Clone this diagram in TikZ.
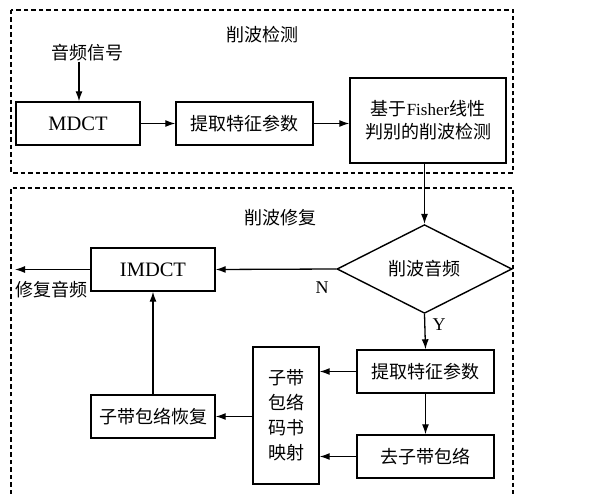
\documentclass[tikz,border=0pt]{standalone}
\usepackage{fontspec}
\setmainfont{Liberation Serif}
\newfontfamily\cjk{Noto Sans CJK SC}
\usetikzlibrary{shapes.geometric,arrows.meta}
\begin{document}
\begin{tikzpicture}[x=1pt,y=-1pt,
  every node/.style={font=\fontsize{18}{23}\selectfont},
  box/.style={draw,line width=1.4pt,rectangle,inner sep=0pt,minimum height=43pt,align=center},
  big/.style={font=\fontsize{20.5}{24}\selectfont},
  lbl/.style={inner sep=0pt},
  frame/.style={line width=1.2pt,dash pattern=on 4.5pt off 3pt},
  arr/.style={line width=1.3pt,-{Latex[length=10pt,width=7pt]}}]
\useasboundingbox (0,0) rectangle (600,494);
% frames
\draw[frame] (11,10) rectangle (513,173);
\draw[frame] (11,494) -- (11,188) -- (513,188) -- (513,494);
\node[lbl] (t1) at (262,35) {\cjk 削波检测};
\node[lbl] (t2) at (280,218) {\cjk 削波修复};
% top row
\node[lbl] (sig) at (87,53) {\cjk 音频信号};
\node[box,big,minimum width=124pt] (mdct) at (78,123.5) {MDCT};
\node[box,minimum width=137pt] (feat1) at (244.5,123.5) {\cjk 提取特征参数};
\node[box,minimum width=156pt,minimum height=85pt] (fisher) at (428,120.5)
  {{\cjk 基于}{\fontsize{17}{23}\selectfont Fisher}{\cjk 线性}\\{\cjk 判别的削波检测}};
% bottom part
\node[draw,line width=1.4pt,diamond,inner sep=0pt,minimum width=175pt,minimum height=82pt] (dia) at (424.5,269) {\cjk 削波音频};
\node[box,big,minimum width=124pt] (imdct) at (153,269.5) {IMDCT};
\node[box,minimum width=137pt] (feat2) at (425.5,371.5) {\cjk 提取特征参数};
\node[box,minimum width=137pt] (desub) at (425.5,456.5) {\cjk 去子带包络};
\node[box,minimum width=66pt,minimum height=137pt,font=\fontsize{18}{25}\selectfont] (map) at (286,415.5)
  {\cjk 子带\\\cjk 包络\\\cjk 码书\\\cjk 映射};
\node[box,minimum width=124pt] (rec) at (153,416.5) {\cjk 子带包络恢复};
\coordinate (out) at (15,269.5);
\node[lbl] (outl) at (51,290) {\cjk 修复音频};
\node[lbl] (nl) at (322,288) {N};
\node[lbl] (yl) at (439,325) {Y};
% connectors
\draw[arr] (sig.south -| mdct.north) ++(1,0) -- ([xshift=1pt]mdct.north);
\draw[arr] (mdct.east) -- (feat1.west);
\draw[arr] (feat1.east) -- (feat1.east -| fisher.west);
\draw[arr] (fisher.south -| dia.north) -- (dia.north);
\draw[arr] (dia.west) -- (imdct.east);
\draw[arr] (imdct.west) -- (out);
\draw[arr] (dia.south) -- (feat2.north);
\draw[arr] (feat2.south) -- (desub.north);
\draw[arr] (feat2.west) -- (feat2.west -| map.east);
\draw[arr] (desub.west) -- (desub.west -| map.east);
\draw[arr] (rec.east -| map.west) -- (rec.east);
\draw[arr] (rec.north) -- (imdct.south);
\end{tikzpicture}
\end{document}
